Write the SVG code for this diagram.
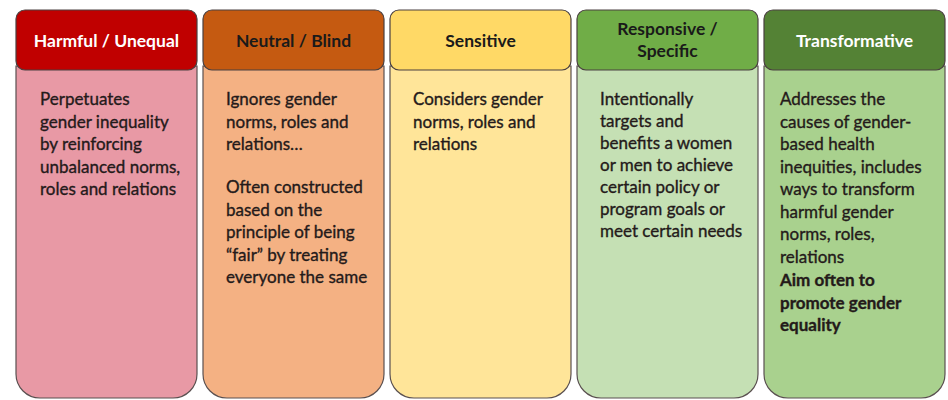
<svg xmlns="http://www.w3.org/2000/svg" width="948" height="400" viewBox="0 0 948 400">
<style>
.body{stroke:#5a5050;stroke-width:1.2}
.head{stroke:#4a4040;stroke-width:1.2}
.ht{font-family:Lato,"Open Sans",sans-serif;font-weight:bold;font-size:17.5px;text-anchor:middle}
.bt{font-family:Lato,"Open Sans",sans-serif;font-size:17px;fill:#241a1a;stroke:#241a1a;stroke-width:0.35}
.bb{font-weight:bold}
</style>
<rect width="948" height="400" fill="#ffffff"/>
<g id="harmful">
<path class="body" d="M16 66 H197 V374 A24 24 0 0 1 173 398 H40 A24 24 0 0 1 16 374 Z" fill="#E899A5"/>
<rect class="head" x="16" y="10" width="181" height="60" rx="9" fill="#C00000"/>
<text class="ht" x="106.5" y="47" fill="#ffffff">Harmful / Unequal</text>
<text class="bt" x="40" y="105"><tspan x="40">Perpetuates</tspan><tspan x="40" dy="22.5">gender inequality</tspan><tspan x="40" dy="22.5">by reinforcing</tspan><tspan x="40" dy="22.5">unbalanced norms,</tspan><tspan x="40" dy="22.5">roles and relations</tspan></text>
</g>
<g id="neutral">
<path class="body" d="M203 66 H384 V374 A24 24 0 0 1 360 398 H227 A24 24 0 0 1 203 374 Z" fill="#F4B183"/>
<rect class="head" x="203" y="10" width="181" height="60" rx="9" fill="#C55A11"/>
<text class="ht" x="293.5" y="47" fill="#1a1a1a">Neutral / Blind</text>
<text class="bt" x="226" y="105"><tspan x="226">Ignores gender</tspan><tspan x="226" dy="22.5">norms, roles and</tspan><tspan x="226" dy="22.5">relations…</tspan><tspan x="226" dy="43">Often constructed</tspan><tspan x="226" dy="22.5">based on the</tspan><tspan x="226" dy="22.5">principle of being</tspan><tspan x="226" dy="22.5">“fair” by treating</tspan><tspan x="226" dy="22.5">everyone the same</tspan></text>
</g>
<g id="sensitive">
<path class="body" d="M390 66 H571 V374 A24 24 0 0 1 547 398 H414 A24 24 0 0 1 390 374 Z" fill="#FFE599"/>
<rect class="head" x="390" y="10" width="181" height="60" rx="9" fill="#FFD966"/>
<text class="ht" x="480.5" y="47" fill="#1a1a1a">Sensitive</text>
<text class="bt" x="413" y="105"><tspan x="413">Considers gender</tspan><tspan x="413" dy="22.5">norms, roles and</tspan><tspan x="413" dy="22.5">relations</tspan></text>
</g>
<g id="responsive">
<path class="body" d="M577 66 H758 V374 A24 24 0 0 1 734 398 H601 A24 24 0 0 1 577 374 Z" fill="#C5E0B4"/>
<rect class="head" x="577" y="10" width="181" height="60" rx="9" fill="#70AD47"/>
<text class="ht" x="667.5" y="35" fill="#1a1a1a"><tspan x="667.5">Responsive /</tspan><tspan x="667.5" dy="22">Specific</tspan></text>
<text class="bt" x="600" y="105"><tspan x="600">Intentionally</tspan><tspan x="600" dy="22">targets and</tspan><tspan x="600" dy="22">benefits a women</tspan><tspan x="600" dy="22">or men to achieve</tspan><tspan x="600" dy="22">certain policy or</tspan><tspan x="600" dy="22">program goals or</tspan><tspan x="600" dy="22">meet certain needs</tspan></text>
</g>
<g id="transformative">
<path class="body" d="M764 66 H945 V374 A24 24 0 0 1 921 398 H788 A24 24 0 0 1 764 374 Z" fill="#A9D18E"/>
<rect class="head" x="764" y="10" width="181" height="60" rx="9" fill="#548235"/>
<text class="ht" x="854.5" y="47" fill="#ffffff">Transformative</text>
<text class="bt" x="780" y="105"><tspan x="780">Addresses the</tspan><tspan x="780" dy="22.5">causes of gender-</tspan><tspan x="780" dy="22.5">based health</tspan><tspan x="780" dy="22.5">inequities, includes</tspan><tspan x="780" dy="22.5">ways to transform</tspan><tspan x="780" dy="22.5">harmful gender</tspan><tspan x="780" dy="22.5">norms, roles,</tspan><tspan x="780" dy="22.5">relations</tspan><tspan x="780" dy="23.5" class="bb">Aim often to</tspan><tspan x="780" dy="22.5" class="bb">promote gender</tspan><tspan x="780" dy="22.5" class="bb">equality</tspan></text>
</g>
<g id="connectors"/>
</svg>
